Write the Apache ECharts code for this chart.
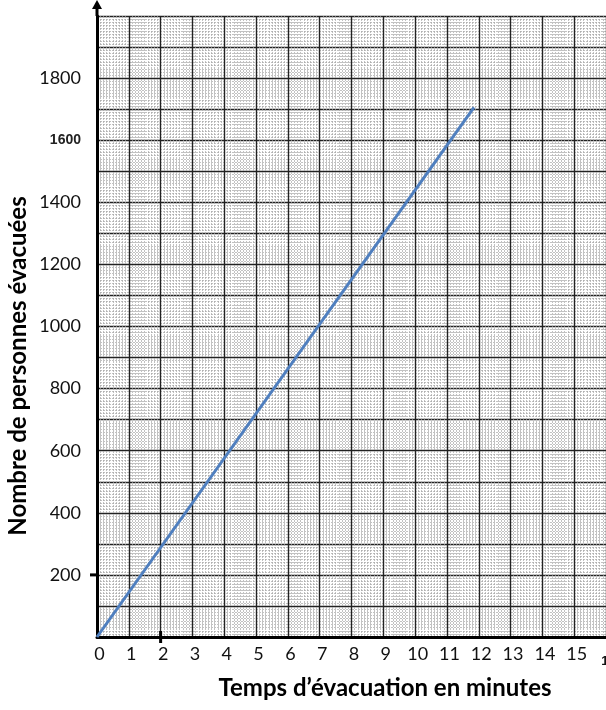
<!DOCTYPE html>
<html>
<head>
<meta charset="utf-8">
<script src="https://cdn.jsdelivr.net/npm/echarts@6/dist/echarts.min.js"></script>
<style>
  html, body { margin: 0; padding: 0; background: #fff; }
  #main { width: 606px; height: 710px; }
</style>
</head>
<body>
<div id="main"></div>
<script>
// values
let minutes = [0, 11.85];
let persons = [0, 1706];
let yTickLabels = [200, 400, 600, 800, 1000, 1200, 1400, 1600, 1800];
let xTickLabels = [0, 1, 2, 3, 4, 5, 6, 7, 8, 9, 10, 11, 12, 13, 14, 15, 16];

let myChart = echarts.init(document.getElementById('main'));

let labelFont = 'Lato, "Open Sans", sans-serif';

let options = {
    animation: false,
    grid: { left: 97, right: 0, top: 16, bottom: 73, outerBoundsMode: 'none', containLabel: false },
    xAxis: {
        type: 'value',
        min: 0,
        max: 16,
        interval: 1,
        axisLine: { show: true, onZero: false, lineStyle: { color: '#000', width: 3 } },
        axisTick: { show: false },
        axisLabel: {
            margin: 8,
            padding: [0, 0, 0, 5],
            color: '#111',
            fontFamily: labelFont,
            fontSize: 18,
            formatter: function (v) {
                if (xTickLabels.indexOf(v) < 0) return '';
                if (v === 16) return '{s|16}';
                return String(v);
            },
            rich: { s: { fontSize: 13, fontWeight: 'bold', fontFamily: 'Arial, sans-serif', padding: [10, 0, 0, 0] } }
        },
        splitLine: { show: true, lineStyle: { color: '#222', width: 1.4 } },
        minorTick: { show: false, splitNumber: 10 },
        minorSplitLine: { show: true, lineStyle: { color: '#a8a8a8', width: 0.7, type: [2, 1] } }
    },
    yAxis: {
        type: 'value',
        min: 0,
        max: 2000,
        interval: 100,
        axisLine: { show: true, lineStyle: { color: '#000', width: 3 } },
        axisTick: { show: false },
        axisLabel: {
            margin: 16,
            color: '#111',
            fontFamily: labelFont,
            fontSize: 18,
            formatter: function (v) {
                if (yTickLabels.indexOf(v) < 0) return '';
                if (v === 1600) return '{b|1600}';
                return String(v);
            },
            rich: { b: { fontSize: 14, fontWeight: 'bold', fontFamily: 'Arial, sans-serif', color: '#222' } }
        },
        splitLine: { show: true, lineStyle: { color: '#222', width: 1.4 } },
        minorTick: { show: false, splitNumber: 10 },
        minorSplitLine: { show: true, lineStyle: { color: '#a8a8a8', width: 0.7, type: [2, 1] } }
    },
    series: [{
        type: 'line',
        data: minutes.map((m, i) => [m, persons[i]]),
        symbol: 'none',
        lineStyle: { color: '#4f7fbf', width: 3 },
        z: 5
    }]
};

myChart.setOption(options);

// axis arrow, stray ticks and axis titles
let yTop = myChart.convertToPixel({ gridIndex: 0 }, [0, 2000]);
let y200 = myChart.convertToPixel({ gridIndex: 0 }, [0, 200]);
let x2 = myChart.convertToPixel({ gridIndex: 0 }, [2, 0]);

myChart.setOption({
    graphic: [
        { type: 'line', shape: { x1: yTop[0], y1: yTop[1], x2: yTop[0], y2: 6 },
          style: { stroke: '#000', lineWidth: 3 }, z: 10 },
        { type: 'polygon', shape: { points: [[yTop[0] - 5, 9], [yTop[0] + 5, 9], [yTop[0], 0]] },
          style: { fill: '#000' }, z: 10 },
        { type: 'line', shape: { x1: y200[0] - 7, y1: y200[1], x2: y200[0], y2: y200[1] },
          style: { stroke: '#000', lineWidth: 3 }, z: 10 },
        { type: 'line', shape: { x1: x2[0], y1: x2[1] - 6, x2: x2[0], y2: x2[1] + 6 },
          style: { stroke: '#000', lineWidth: 3 }, z: 10 },
        { type: 'text', x: 385, y: 688,
          style: { text: 'Temps d\u2019\u00e9vacuation en minutes', fill: '#000',
                   font: 'bold 24px Lato, "Open Sans", sans-serif', align: 'center', verticalAlign: 'middle' } },
        { type: 'text', x: 18, y: 366, rotation: Math.PI / 2,
          style: { text: 'Nombre de personnes \u00e9vacu\u00e9es', fill: '#000',
                   font: 'bold 24px Lato, "Open Sans", sans-serif', align: 'center', verticalAlign: 'middle' } }
    ]
});
</script>
</body>
</html>
